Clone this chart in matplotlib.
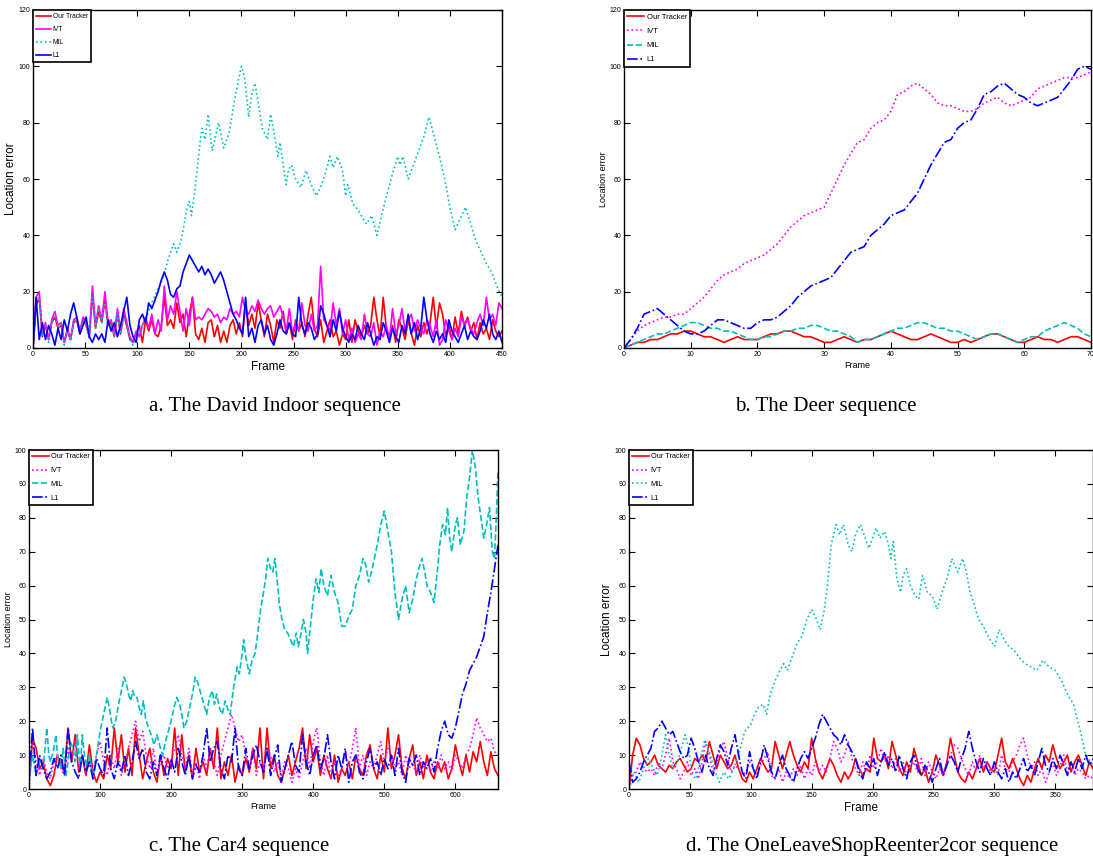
import numpy as np
import matplotlib
matplotlib.use("Agg")
import matplotlib.pyplot as plt

plt.rcParams['font.family'] = ['Liberation Sans Narrow', 'Liberation Sans', 'DejaVu Sans']

RED = '#FF0000'
MAG = '#FF00FF'
CYAN = '#00BFBF'
BLUE = '#0000FF'

names = ['Our Tracker', 'IVT', 'MIL', 'L1']

# ---------------- a. David Indoor (0..450) ----------------
a_step = 3
a_ours = [0, 15, 18, 4, 8, 3, 9, 11, 7, 8, 2, 6, 3, 9, 10, 5, 10, 8, 4, 19, 7, 13, 9, 17, 8, 9, 4, 12, 5, 12, 8, 3, 2, 5,
          8, 2, 10, 6, 10, 5, 4, 8, 18, 8, 10, 7, 16, 9, 12, 4, 12, 18, 5, 3, 7, 2, 9, 10, 4, 8, 2, 6, 2, 8, 10, 5, 9, 4,
          16, 8, 12, 7, 16, 10, 4, 12, 8, 2, 10, 7, 13, 5, 9, 3, 10, 6, 9, 4, 12, 18, 7, 4, 10, 2, 6, 10, 4, 6, 1, 5, 3,
          10, 2, 10, 6, 4, 8, 5, 8, 18, 10, 4, 18, 7, 4, 8, 2, 10, 7, 3, 10, 5, 1, 8, 4, 9, 5, 9, 18, 7, 16, 12, 4, 8, 3,
          11, 5, 13, 8, 11, 6, 9, 3, 9, 5, 7, 3, 10, 6, 4, 6]
a_ivt = [0, 18, 20, 5, 9, 3, 10, 13, 8, 9, 2, 7, 3, 10, 11, 6, 11, 9, 4, 22, 8, 15, 10, 20, 9, 10, 5, 14, 6, 14, 9, 4, 2, 6,
         4, 8, 11, 7, 12, 5, 10, 6, 22, 10, 15, 12, 20, 13, 6, 14, 8, 18, 10, 11, 10, 12, 14, 13, 11, 12, 9, 11, 10, 14,
         12, 13, 11, 18, 13, 12, 15, 13, 17, 14, 12, 14, 15, 11, 13, 15, 11, 6, 14, 5, 9, 6, 16, 8, 6, 12, 6, 8, 29, 10,
         8, 6, 16, 8, 14, 5, 10, 3, 7, 2, 5, 3, 12, 5, 4, 9, 1, 6, 4, 8, 3, 14, 5, 8, 14, 6, 10, 12, 6, 10, 7, 5, 10, 8,
         4, 10, 1, 3, 10, 6, 3, 7, 4, 11, 8, 10, 7, 5, 9, 12, 8, 18, 10, 12, 8, 16, 14]
a_l1 = [0, 18, 3, 9, 3, 8, 5, 1, 7, 3, 10, 6, 12, 16, 11, 5, 8, 11, 4, 2, 5, 3, 5, 2, 10, 6, 9, 4, 8, 13, 18, 8, 4, 2,
        10, 12, 9, 16, 14, 17, 20, 24, 27, 24, 19, 18, 21, 22, 27, 30, 33, 31, 29, 27, 29, 26, 28, 26, 23, 25, 27, 24,
        20, 16, 12, 10, 7, 5, 18, 4, 7, 2, 8, 10, 5, 8, 3, 1, 5, 10, 6, 5, 9, 5, 4, 18, 8, 5, 9, 7, 3, 5, 15, 12, 8, 4,
        10, 6, 13, 7, 4, 2, 5, 3, 8, 5, 3, 9, 5, 1, 4, 3, 9, 6, 2, 7, 4, 2, 8, 5, 12, 5, 9, 3, 7, 18, 10, 5, 2, 6, 3, 5,
        2, 10, 6, 4, 2, 5, 8, 3, 6, 4, 3, 6, 10, 7, 12, 5, 3, 6, 2]
a_mil_f = [0, 3, 6, 9, 12, 15, 18, 21, 24, 27, 30, 33, 36, 39, 42, 45, 48, 51, 54, 57, 60, 63, 66, 69, 72, 75, 78, 81,
           84, 87, 90, 93, 96, 99,
           105, 110, 115, 120, 125, 130, 135, 138, 142, 145, 148, 150, 152, 155, 160, 162, 165, 168, 172, 178,
           183, 188, 192, 197, 200, 203, 207, 210, 213, 217, 220, 225, 228, 232, 235, 237, 240, 243, 245, 248,
           252, 257, 262, 267, 272, 277, 282, 285, 288, 292, 297, 300, 302, 307, 310, 315, 320, 325, 330, 335,
           340, 345, 350, 352, 355, 360, 365, 370, 375, 380, 385, 390, 395, 400, 405, 410, 415, 420, 425, 430,
           435, 440, 445, 450]
a_mil = [0, 16, 18, 4, 8, 2, 9, 11, 7, 8, 1, 6, 3, 9, 10, 5, 10, 8, 3, 18, 7, 14, 9, 16, 8, 9, 4, 12, 5, 11, 8, 3, 1, 4,
         8, 12, 17, 21, 25, 32, 37, 34, 38, 44, 50, 52, 47, 55, 72, 78, 74, 83, 70, 80,
         71, 76, 85, 95, 100, 96, 82, 90, 94, 85, 78, 74, 83, 75, 68, 73, 65, 58, 63, 65,
         60, 57, 63, 58, 54, 58, 64, 68, 64, 68, 63, 54, 58, 51, 50, 47, 44, 47, 40, 48,
         55, 62, 68, 65, 68, 60, 65, 70, 75, 82, 75, 68, 60, 50, 42, 46, 50, 44, 38, 34,
         30, 27, 22, 18]

# ---------------- b. Deer (0..70) ----------------
b_ours = [0, 1, 2, 2, 3, 3, 4, 5, 5, 6, 6, 5, 4, 4, 3, 2, 3, 4, 3, 3, 3, 4, 5, 5, 6, 6, 5, 4, 4, 3, 2, 2, 3, 4, 3, 2,
          3, 3, 4, 5, 6, 5, 4, 3, 3, 4, 5, 4, 3, 2, 2, 3, 2, 3, 4, 5, 5, 4, 3, 2, 2, 3, 4, 3, 3, 2, 3, 4, 4, 3, 2]
b_ivt = [0, 3, 6, 8, 9, 10, 11, 11, 12, 12, 14, 16, 18, 21, 24, 26, 27, 28, 30, 31, 32, 33, 35, 37, 40, 43, 45, 47, 48,
         49, 50, 55, 60, 65, 69, 73, 74, 78, 80, 81, 84, 90, 91, 93, 94, 92, 90, 87, 86, 86, 85, 84, 84, 85, 87, 88,
         89, 87, 86, 87, 88, 89, 92, 93, 94, 95, 96, 96, 96, 97, 98]
b_mil = [0, 1, 2, 3, 4, 5, 5, 6, 7, 8, 9, 9, 8, 7, 7, 6, 6, 5, 4, 3, 3, 4, 4, 5, 6, 6, 7, 7, 8, 8, 7, 6, 6, 5, 4, 2, 3,
         3, 4, 5, 6, 7, 7, 8, 9, 9, 8, 7, 7, 6, 6, 5, 4, 3, 4, 5, 5, 4, 3, 2, 3, 4, 4, 6, 7, 8, 9, 8, 7, 5, 4]
b_l1 = [0, 3, 7, 12, 13, 14, 12, 10, 8, 6, 5, 5, 6, 8, 10, 10, 9, 8, 7, 7, 9, 10, 10, 11, 13, 15, 18, 20, 22, 23, 24,
        25, 28, 31, 34, 35, 36, 40, 42, 44, 47, 48, 49, 52, 55, 60, 65, 69, 73, 74, 78, 80, 81, 85, 90, 91, 93, 94, 92,
        90, 89, 87, 86, 87, 88, 89, 92, 95, 99, 100, 99]

# ---------------- c. Car4 (0..660) ----------------
c_step = 5
c_ours = [2, 15, 12, 6, 8, 3, 1, 4, 10, 7, 5, 18, 8, 16, 5, 10, 4, 13, 5, 2, 5, 3, 10, 6, 18, 8, 16, 5, 12, 4, 18, 10, 3,
          8, 12, 5, 2, 10, 4, 9, 6, 18, 4, 16, 5, 10, 3, 12, 5, 8, 4, 12, 6, 18, 3, 8, 4, 10, 2, 7, 4, 9, 5, 12, 6, 18,
          3, 18, 6, 10, 4, 2, 6, 10, 4, 8, 12, 18, 6, 16, 8, 12, 4, 10, 6, 3, 10, 2, 6, 4, 8, 3, 10, 6, 4, 10, 13, 6, 3,
          10, 5, 18, 6, 10, 16, 6, 3, 9, 13, 4, 8, 3, 10, 5, 3, 8, 5, 8, 3, 6, 13, 8, 4, 10, 5, 11, 8, 14, 8, 4, 11, 6, 4]
c_ivt = [0, 14, 8, 4, 9, 5, 3, 8, 10, 6, 4, 12, 8, 14, 6, 10, 4, 8, 5, 10, 14, 8, 4, 10, 6, 12, 4, 8, 12, 16, 20, 14, 17,
         10, 6, 12, 4, 8, 10, 6, 8, 12, 16, 10, 6, 12, 4, 8, 3, 10, 6, 12, 8, 4, 10, 14, 18, 22, 18, 14, 16, 10, 6, 12,
         4, 8, 6, 12, 10, 5, 8, 4, 8, 6, 2, 6, 3, 8, 12, 6, 14, 18, 8, 4, 10, 3, 8, 4, 6, 10, 7, 12, 18, 6, 10, 4, 8, 6,
         10, 14, 8, 12, 10, 6, 8, 4, 10, 6, 8, 4, 10, 6, 8, 5, 8, 6, 10, 6, 8, 5, 10, 8, 6, 10, 12, 16, 21, 18, 16, 14,
         15, 11, 10]
c_l1 = [3, 18, 4, 10, 6, 3, 5, 9, 6, 10, 4, 18, 8, 5, 3, 10, 5, 8, 3, 9, 6, 4, 18, 6, 3, 8, 5, 10, 4, 8, 14, 9, 12, 5,
        3, 8, 4, 10, 6, 3, 9, 5, 12, 8, 4, 10, 3, 7, 5, 10, 18, 8, 12, 14, 6, 3, 10, 8, 18, 6, 4, 12, 6, 10, 13, 8, 5,
        12, 4, 9, 13, 2, 6, 10, 14, 7, 5, 16, 8, 4, 10, 13, 6, 9, 16, 8, 3, 10, 6, 12, 2, 8, 10, 5, 3, 8, 12, 6, 8, 4,
        9, 6, 10, 4, 12, 5, 2, 9, 7, 10, 4, 8, 6, 9, 5, 12, 17, 20, 16, 15, 18, 23, 28, 31, 35, 37, 39, 42, 45, 52, 58,
        65, 72]
c_mil_f = [0, 5, 10, 15, 20, 25, 28, 30, 35, 38, 40, 45, 48, 52, 55, 58, 62, 65, 68, 72, 75, 78, 82, 85, 90, 95,
           100, 105, 110, 113, 116, 118, 122, 126, 130, 134, 137, 140, 143, 146, 149, 152, 155, 158, 161, 164, 168,
           172, 176, 180, 185, 188, 192, 196, 200, 204, 208, 212, 215, 218, 222, 226, 230, 234, 238, 242, 246, 250,
           254, 258, 261, 264, 268, 272, 276, 279, 283, 288, 293, 296, 300, 302, 305, 308, 310, 314, 318, 322, 326,
           330, 333, 336, 340, 343, 346, 350, 352, 356, 360, 364, 368, 372, 376, 379, 383, 386, 390, 392, 396, 400,
           404, 408, 411, 415, 420, 425, 430, 435, 440, 445, 450, 455, 460, 465, 470, 474, 478, 482, 486, 490, 495,
           500, 505, 510, 515, 520, 525, 530, 535, 540, 545, 550, 553, 557, 560, 565, 570, 575, 578, 582, 586, 589,
           592, 595, 600, 603, 607, 612, 616, 620, 624, 628, 632, 636, 640, 644, 648, 652, 655, 658, 660]
c_mil = [3, 10, 4, 9, 6, 18, 10, 8, 12, 16, 10, 6, 12, 4, 8, 14, 12, 8, 16, 6, 16, 10, 6, 10, 3, 10,
         17, 22, 27, 24, 20, 18, 20, 25, 29, 33, 31, 28, 26, 29, 27, 27, 24, 22, 26, 21, 18,
         16, 13, 16, 12, 10, 14, 17, 20, 24, 27, 25, 22, 18, 20, 24, 28, 33, 31, 28, 25, 22,
         27, 29, 25, 28, 24, 22, 26, 24, 22, 30, 36, 34, 40, 44, 39, 36, 34, 38, 40, 46, 53,
         58, 62, 68, 65, 64, 68, 60, 55, 50, 47, 46, 44, 42, 46, 42, 46, 50, 46, 40, 48, 56,
         62, 58, 65, 60, 57, 63, 58, 55, 48, 48, 51, 53, 60, 63, 68, 66, 61, 64, 68, 72, 78,
         82, 76, 70, 58, 50, 56, 60, 52, 56, 62, 66, 68, 64, 60, 58, 55, 65, 72, 78, 75, 83,
         74, 70, 78, 80, 72, 76, 86, 92, 100, 95, 86, 80, 74, 78, 83, 70, 68, 82, 94]

# ---------------- d. OneLeaveShopReenter2cor (0..381) ----------------
d_step = 3
d_ours = [0, 10, 15, 13, 9, 7, 8, 10, 7, 6, 5, 7, 6, 8, 9, 7, 5, 6, 9, 8, 10, 8, 14, 10, 6, 10, 8, 6, 7, 10, 6, 3, 2, 5,
          3, 6, 9, 7, 5, 6, 14, 10, 6, 10, 14, 10, 7, 5, 8, 6, 15, 9, 5, 3, 6, 9, 7, 4, 2, 5, 3, 5, 9, 6, 4, 6, 5, 15, 9,
          8, 10, 6, 14, 10, 6, 4, 8, 5, 12, 8, 4, 6, 2, 5, 10, 7, 4, 8, 15, 10, 5, 3, 2, 5, 3, 6, 9, 5, 8, 6, 5, 10, 15,
          8, 6, 9, 6, 3, 1, 4, 2, 6, 9, 6, 10, 8, 13, 9, 6, 8, 10, 5, 8, 10, 7, 4, 8, 6]
d_ivt = [0, 4, 5, 8, 6, 5, 6, 4, 8, 6, 10, 15, 8, 6, 3, 5, 8, 4, 6, 3, 8, 14, 10, 5, 8, 12, 14, 9, 5, 7, 6, 4, 5, 8, 6,
         4, 7, 9, 11, 4, 3, 6, 2, 5, 3, 6, 4, 7, 3, 6, 4, 8, 5, 7, 5, 9, 14, 12, 8, 10, 14, 9, 6, 4, 8, 5, 10, 6, 8, 12,
         8, 10, 6, 9, 5, 8, 4, 6, 8, 5, 9, 4, 8, 5, 3, 6, 4, 8, 10, 13, 12, 9, 6, 4, 8, 5, 10, 6, 8, 5, 7, 4, 10, 6, 5,
         8, 10, 13, 15, 10, 6, 8, 4, 6, 2, 5, 8, 4, 7, 10, 5, 8, 4, 6, 5, 3, 4, 3]
d_l1 = [8, 2, 3, 5, 8, 10, 12, 17, 18, 20, 18, 16, 17, 14, 11, 9, 10, 15, 12, 8, 5, 10, 6, 4, 9, 13, 11, 7, 12, 16, 10,
        5, 3, 11, 6, 3, 8, 13, 9, 5, 3, 7, 10, 6, 4, 2, 6, 9, 11, 9, 12, 15, 19, 22, 20, 18, 16, 15, 13, 16, 13, 11, 9,
        5, 3, 8, 6, 9, 4, 8, 11, 7, 9, 5, 10, 6, 3, 8, 10, 6, 4, 7, 5, 2, 6, 9, 4, 7, 10, 8, 5, 9, 12, 17, 12, 8, 5, 9,
        6, 4, 8, 5, 3, 6, 2, 5, 3, 6, 9, 5, 7, 4, 8, 12, 7, 5, 9, 6, 10, 7, 4, 8, 5, 9, 6, 10, 7, 9]
d_mil_f = [0, 4, 8, 12, 16, 20, 23, 26, 30, 33, 36, 40, 43, 46, 49, 52, 55, 58, 62, 66, 70, 74, 78, 82, 86, 90, 95,
           100, 103, 106, 110, 113, 116, 120, 124, 127, 130, 134, 138, 142, 146, 150, 154, 157, 160, 163, 166, 170,
           173, 176, 180, 183, 186, 190, 193, 197, 200, 203, 206, 210, 213, 215, 217, 220, 223, 225, 228, 231, 235,
           238, 241, 245, 249, 253, 257, 261, 265, 270, 274, 277, 280, 283, 287, 291, 295, 300, 304, 308, 312, 316,
           320, 325, 330, 335, 340, 345, 350, 355, 360, 365, 370, 375, 381]
d_mil = [0, 5, 2, 6, 9, 6, 4, 8, 16, 10, 6, 8, 12, 16, 12, 4, 3, 8, 14, 11, 6, 2, 5, 3, 6, 10, 17,
         19, 22, 24, 25, 22, 28, 32, 35, 37, 35, 39, 43, 45, 50, 53, 50, 47, 52, 60, 72, 78,
         75, 78, 72, 70, 75, 78, 75, 71, 74, 77, 74, 76, 72, 68, 73, 62, 58, 63, 65, 60, 57,
         56, 63, 58, 57, 53, 58, 62, 68, 64, 68, 64, 58, 55, 50, 48, 45, 42, 47, 44, 42, 41,
         39, 37, 36, 35, 38, 36, 35, 32, 28, 25, 18, 10, 7]


def frames(vals, step):
    return np.arange(len(vals)) * step


panels = [
    dict(rect=(33, 502, 10, 348), xlim=450, ylim=120, yt=20, xt=50,
         series=[(frames(a_ours, a_step), a_ours, RED, '-'),
                 (frames(a_ivt, a_step), a_ivt, MAG, '-'),
                 (a_mil_f, a_mil, CYAN, ':'),
                 (frames(a_l1, a_step), a_l1, BLUE, '-')],
         caption='a. The David Indoor sequence', cap=(275, 407), xl=8.5, lg=4.8),
    dict(rect=(624, 1091, 10, 348), xlim=70, ylim=120, yt=20, xt=10,
         series=[(frames(b_ours, 1), b_ours, RED, '-'),
                 (frames(b_ivt, 1), b_ivt, MAG, ':'),
                 (frames(b_mil, 1), b_mil, CYAN, '--'),
                 (frames(b_l1, 1), b_l1, BLUE, '-.')],
         caption='b. The Deer sequence', cap=(826, 407), xl=6.5, lg=5.5),
    dict(rect=(29, 498, 450, 789), xlim=660, ylim=100, yt=10, xt=100,
         series=[(frames(c_ours, c_step), c_ours, RED, '-'),
                 (frames(c_ivt, c_step), c_ivt, MAG, ':'),
                 (c_mil_f, c_mil, CYAN, '--'),
                 (frames(c_l1, c_step), c_l1, BLUE, '-.')],
         caption='c. The Car4 sequence', cap=(239, 847), xl=6.5, lg=5.3),
    dict(rect=(629, 1093, 450, 789), xlim=381, ylim=100, yt=10, xt=50,
         series=[(frames(d_ours, d_step), d_ours, RED, '-'),
                 (frames(d_ivt, d_step), d_ivt, MAG, ':'),
                 (d_mil_f, d_mil, CYAN, ':'),
                 (frames(d_l1, d_step), d_l1, BLUE, '-.')],
         caption='d. The OneLeaveShopReenter2cor sequence', cap=(872, 847), xl=8.5, lg=5.3),
]

W, H = 1093, 861
fig = plt.figure(figsize=(W / 100, H / 100), dpi=100)

for p in panels:
    l, r, t, b = p['rect']
    ax = fig.add_axes([l / W, 1 - b / H, (r - l) / W, (b - t) / H])
    for (x, y, c, ls), nm in zip(p['series'], names):
        ax.plot(x, y, color=c, ls=ls, lw=1.2, label=nm)
    ax.set_xlim(0, p['xlim'])
    ax.set_ylim(0, p['ylim'])
    ax.set_xticks(np.arange(0, p['xlim'] + 1, p['xt']))
    ax.set_yticks(np.arange(0, p['ylim'] + 1, p['yt']))
    ax.tick_params(direction='in', top=True, right=True, labelsize=5, length=4, width=0.8, pad=2)
    for s in ax.spines.values():
        s.set_linewidth(1.0)
    ax.set_xlabel('Frame', fontsize=p['xl'], labelpad=2)
    ax.set_ylabel('Location error', fontsize=p['xl'])
    ax.yaxis.set_label_coords(-0.035, 0.5)
    leg = ax.legend(loc='upper left', fontsize=p['lg'], fancybox=False, framealpha=1,
                    edgecolor='black', handlelength=2.2, handletextpad=0.3,
                    borderaxespad=0.05, labelspacing=0.9, borderpad=0.4)
    leg.get_frame().set_linewidth(1.2)
    fig.text(p['cap'][0] / W, 1 - p['cap'][1] / H, p['caption'], ha='center', va='center',
             fontsize=15, family=['Liberation Serif', 'DejaVu Serif'])

fig.savefig('out.png', dpi=100)
